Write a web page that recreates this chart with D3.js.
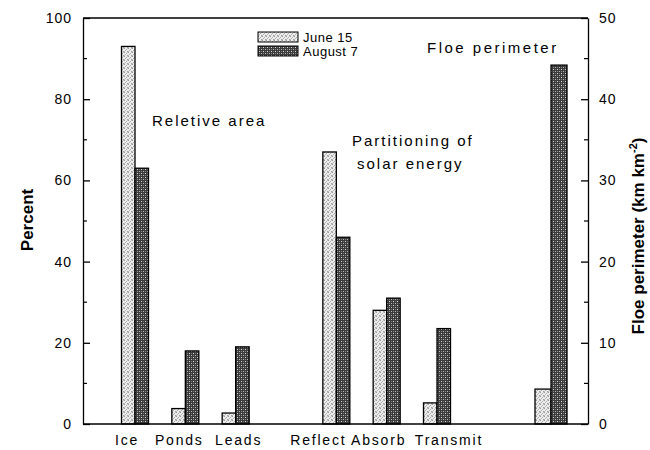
<!DOCTYPE html>
<html>
<head>
<meta charset="utf-8">
<script src="https://cdn.jsdelivr.net/npm/d3@7"></script>
<style>
	body { margin: 0; background: #fff; }
	text { font-family: "Liberation Sans", Arial, sans-serif; fill: #000; }
</style>
</head>
<body>
<div id="chart"></div>
<script>
// --- data --- \\
var categories = ["Ice", "Ponds", "Leads", "", "Reflect", "Absorb", "Transmit"];
var june = [93, 3.8, 2.7, null, 67, 28, 5.2];
var august = [63, 18, 19, null, 46, 31, 23.5];
var floeJune = 4.3, floeAugust = 44.2;   // km km^-2, right axis
var seriesNames = ["June 15", "August 7"];
var leftTicks = [0, 20, 40, 60, 80, 100];
var rightTicks = [0, 10, 20, 30, 40, 50];

// "top" is taken by window.top, so plot edges get other names
var width = 650, height = 450
	, xLeft = 83, xRight = 588, yTop = 18, yBottom = 424;

// labels in the original aren't quite centered under their bars
var labelShift = { "Ice": -8, "Ponds": -6, "Leads": 3, "Reflect": -18, "Absorb": -8, "Transmit": 12 };

var svg = d3.select("#chart").append("svg")
	.attr("width", width).attr("height", height);

// fill patterns, light stipple and dark checker
var defs = svg.append("defs");
var pj = defs.append("pattern").attr("id", "pJune")
	.attr("width", 4).attr("height", 4).attr("patternUnits", "userSpaceOnUse");
pj.append("rect").attr("width", 4).attr("height", 4).attr("fill", "#eeeeee");
// scattered dots so it doesn't read as stripes
[[0, 0, "#999"], [2, 1, "#aaa"], [1, 2, "#b0b0b0"], [3, 3, "#a0a0a0"], [3, 0, "#c4c4c4"], [0, 3, "#bbb"]]
	.forEach(function (p) {
		pj.append("rect").attr("x", p[0]).attr("y", p[1]).attr("width", 1).attr("height", 1).attr("fill", p[2]);
	});

var pa = defs.append("pattern").attr("id", "pAug")
	.attr("width", 4).attr("height", 4).attr("patternUnits", "userSpaceOnUse");
pa.append("rect").attr("width", 4).attr("height", 4).attr("fill", "#3a3a3a");
pa.append("rect").attr("x", 1).attr("y", 1).attr("width", 1).attr("height", 1).attr("fill", "#ddd");
pa.append("rect").attr("x", 3).attr("y", 3).attr("width", 1).attr("height", 1).attr("fill", "#bbb");
pa.append("rect").attr("x", 3).attr("y", 1).attr("width", 1).attr("height", 1).attr("fill", "#777");
pa.append("rect").attr("x", 1).attr("y", 3).attr("width", 1).attr("height", 1).attr("fill", "#888");

// --- scales --- \\
var x = d3.scalePoint().domain(categories).range([135, 437]);
var floeX = 551, barW = 13.5, floeBarW = 16;
var yL = d3.scaleLinear().domain([0, 100]).range([yBottom, yTop]);
var yR = d3.scaleLinear().domain([0, 50]).range([yBottom, yTop]);

// --- bars --- \\
var rows = categories.map(function (c, i) { return { c: c, j: june[i], a: august[i] }; })
	.filter(function (d) { return d.j !== null; });

svg.selectAll(".bj").data(rows).enter().append("rect")
	.attr("x", function (d) { return x(d.c) - barW; })
	.attr("y", function (d) { return yL(d.j); })
	.attr("width", barW)
	.attr("height", function (d) { return yBottom - yL(d.j); })
	.attr("fill", "url(#pJune)").attr("stroke", "#000").attr("stroke-width", 1.3);
svg.selectAll(".ba").data(rows).enter().append("rect")
	.attr("x", function (d) { return x(d.c); })
	.attr("y", function (d) { return yL(d.a); })
	.attr("width", barW)
	.attr("height", function (d) { return yBottom - yL(d.a); })
	.attr("fill", "url(#pAug)").attr("stroke", "#000").attr("stroke-width", 1.3);

svg.append("rect").attr("x", floeX - floeBarW).attr("y", yR(floeJune))
	.attr("width", floeBarW).attr("height", yBottom - yR(floeJune))
	.attr("fill", "url(#pJune)").attr("stroke", "#000").attr("stroke-width", 1.3);
svg.append("rect").attr("x", floeX).attr("y", yR(floeAugust))
	.attr("width", floeBarW).attr("height", yBottom - yR(floeAugust))
	.attr("fill", "url(#pAug)").attr("stroke", "#000").attr("stroke-width", 1.3);

// --- axes --- \\
var leftAxis = d3.axisLeft(yL).tickValues(leftTicks).tickSizeInner(-7).tickSizeOuter(0).tickPadding(11);
var gL = svg.append("g").attr("transform", "translate(" + xLeft + ",0)").call(leftAxis);
var rightAxis = d3.axisRight(yR).tickValues(rightTicks).tickSizeInner(-7).tickSizeOuter(0).tickPadding(11);
var gR = svg.append("g").attr("transform", "translate(" + xRight + ",0)").call(rightAxis);
[gL, gR].forEach(function (g) {
	g.select(".domain").attr("stroke", "#000").attr("stroke-width", 1.3);
	g.selectAll(".tick line").attr("stroke", "#000").attr("stroke-width", 1.3);
	g.selectAll(".tick text").attr("font-size", 14).attr("letter-spacing", 1)
		.attr("font-family", "Liberation Sans, Arial, sans-serif");
});
// minor ticks
svg.selectAll(".mL").data(d3.range(10, 100, 20)).enter().append("line")
	.attr("x1", xLeft).attr("x2", xLeft + 4)
	.attr("y1", function (d) { return yL(d); }).attr("y2", function (d) { return yL(d); })
	.attr("stroke", "#000").attr("stroke-width", 1.2);
svg.selectAll(".mR").data(d3.range(5, 50, 10)).enter().append("line")
	.attr("x1", xRight).attr("x2", xRight - 4)
	.attr("y1", function (d) { return yR(d); }).attr("y2", function (d) { return yR(d); })
	.attr("stroke", "#000").attr("stroke-width", 1.2);

// frame top and bottom
svg.append("line").attr("x1", xLeft).attr("x2", xRight).attr("y1", yTop).attr("y2", yTop)
	.attr("stroke", "#000").attr("stroke-width", 1.3);
svg.append("line").attr("x1", xLeft).attr("x2", xRight).attr("y1", yBottom).attr("y2", yBottom)
	.attr("stroke", "#000").attr("stroke-width", 1.3);

// category labels
svg.selectAll(".cat").data(rows).enter().append("text")
	.attr("x", function (d) { return x(d.c) + labelShift[d.c]; })
	.attr("y", 445)
	.attr("text-anchor", "middle").attr("font-size", 14).attr("letter-spacing", 1.8)
	.text(function (d) { return d.c; });

// axis titles
svg.append("text").attr("transform", "translate(33,220) rotate(-90)")
	.attr("text-anchor", "middle").attr("font-size", 17).attr("font-weight", "bold")
	.text("Percent");
var rt = svg.append("text").attr("transform", "translate(644,236) rotate(-90)")
	.attr("text-anchor", "middle").attr("font-size", 17).attr("font-weight", "bold");
rt.append("tspan").text("Floe perimeter (km km");
rt.append("tspan").attr("dy", -7).attr("font-size", 11).text("-2");
rt.append("tspan").attr("dy", 7).text(")");

// annotations
svg.append("text").attr("x", 152).attr("y", 126).attr("font-size", 15).attr("letter-spacing", 2)
	.text("Reletive area");
svg.append("text").attr("x", 352).attr("y", 146).attr("font-size", 15).attr("letter-spacing", 2)
	.text("Partitioning of");
svg.append("text").attr("x", 357).attr("y", 169).attr("font-size", 15).attr("letter-spacing", 2)
	.text("solar energy");
svg.append("text").attr("x", 427).attr("y", 53).attr("font-size", 15).attr("letter-spacing", 2.5)
	.text("Floe perimeter");

// legend
var legend = svg.selectAll(".leg").data(seriesNames).enter().append("g")
	.attr("transform", function (d, i) { return "translate(258," + (32 + i * 14) + ")"; });
legend.append("rect").attr("width", 40).attr("height", 10)
	.attr("fill", function (d, i) { return i === 0 ? "url(#pJune)" : "url(#pAug)"; })
	.attr("stroke", "#000").attr("stroke-width", 1);
legend.append("text").attr("x", 45).attr("y", 10).attr("font-size", 13).attr("letter-spacing", 0.5)
	.text(function (d) { return d; });
</script>
</body>
</html>
